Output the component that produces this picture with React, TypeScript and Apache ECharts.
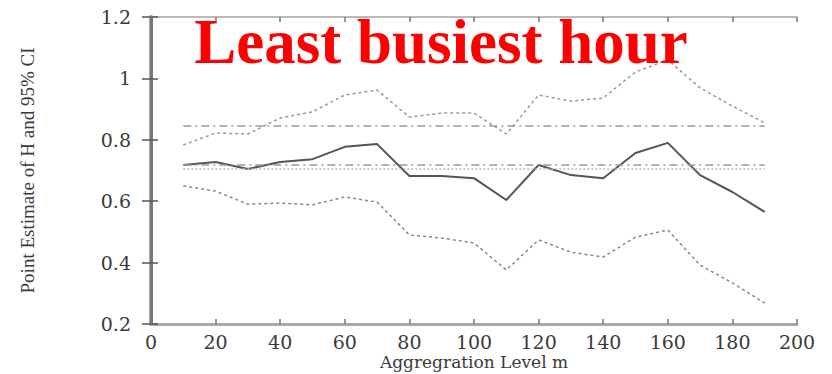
import React, { useEffect, useRef } from "react";
import * as echarts from "echarts";

// Aggregation levels m
const levels = [10, 20, 30, 40, 50, 60, 70, 80, 90, 100, 110, 120, 130, 140, 150, 160, 170, 180, 190];

// Upper 95% confidence bound
const upperCI = [0.783, 0.822, 0.819, 0.871, 0.891, 0.946, 0.962, 0.874, 0.887, 0.887, 0.819, 0.946, 0.926, 0.936, 1.021, 1.06, 0.969, 0.91, 0.855];

// Point estimate of H
const pointEstimate = [0.718, 0.728, 0.705, 0.728, 0.737, 0.777, 0.786, 0.682, 0.682, 0.675, 0.604, 0.718, 0.685, 0.675, 0.757, 0.79, 0.685, 0.63, 0.565];

// Lower 95% confidence bound
const lowerCI = [0.65, 0.633, 0.59, 0.594, 0.588, 0.614, 0.597, 0.49, 0.48, 0.464, 0.376, 0.474, 0.434, 0.418, 0.483, 0.506, 0.392, 0.334, 0.268];

// Horizontal reference levels spanning the aggregation range
const refUpper = 0.845;
const refEstimate = 0.718;
const refLower = 0.705;

const xTicks = { min: 0, max: 200, interval: 20 };
const yTicks = { min: 0.2, max: 1.2, interval: 0.2 };

const titleText = "Least busiest hour";
const xName = "Aggregration Level m";
const yName = "Point Estimate of H and 95% CI";

const pairs = (ys: number[]) => levels.map((x, i) => [x, ys[i]]);
const flat = (y: number) => [
  [levels[0], y],
  [levels[levels.length - 1], y],
];

export default function App() {
  const ref = useRef<HTMLDivElement>(null);

  useEffect(() => {
    if (!ref.current) return;
    const chart = echarts.init(ref.current, undefined, { renderer: "svg" });

    const labelFont = {
      fontFamily: "DejaVu Serif",
      fontSize: 19,
      lineHeight: 20,
      color: "#3a3a3a",
    };

    chart.setOption({
      animation: false,
      backgroundColor: "#ffffff",
      grid: {
        left: 151,
        right: 35,
        top: 17,
        bottom: 50,
        containLabel: false,
        outerBoundsMode: "none",
      },
      xAxis: [
        {
          type: "value",
          position: "bottom",
          ...xTicks,
          axisLine: { lineStyle: { color: "#a8a8a8", width: 3 } },
          axisTick: { inside: true, length: 5, lineStyle: { color: "#777", width: 1.5 } },
          axisLabel: { ...labelFont, margin: 8 },
          splitLine: { show: false },
          name: xName,
          nameLocation: "middle",
          nameGap: 29,
          nameMoveOverlap: false,
          nameTextStyle: {
            fontFamily: "DejaVu Serif",
            fontSize: 17,
            lineHeight: 18,
            color: "#3a3a3a",
          },
        },
        {
          type: "value",
          position: "top",
          ...xTicks,
          axisLine: { lineStyle: { color: "#bbb", width: 2 } },
          axisTick: { inside: true, length: 5, lineStyle: { color: "#777", width: 1.5 } },
          axisLabel: { show: false },
          splitLine: { show: false },
        },
      ],
      yAxis: [
        {
          type: "value",
          position: "left",
          ...yTicks,
          axisLine: { show: true, lineStyle: { color: "#aaa", width: 4 } },
          axisTick: { show: true, inside: true, length: 7, lineStyle: { color: "#555", width: 1.5 } },
          axisLabel: {
            ...labelFont,
            margin: 20,
            formatter: (v: number) => String(Math.round(v * 10) / 10),
          },
          splitLine: { show: false },
          name: yName,
          nameLocation: "middle",
          nameGap: 114,
          nameTextStyle: { fontFamily: "Liberation Serif", fontSize: 19, color: "#3a3a3a" },
        },
        {
          type: "value",
          position: "right",
          ...yTicks,
          axisLine: { show: true, lineStyle: { color: "#777", width: 3 } },
          axisTick: { show: true, inside: true, length: 9, lineStyle: { color: "#555", width: 1.5 } },
          axisLabel: { show: false },
          splitLine: { show: false },
        },
      ],
      series: [
        {
          name: "Upper CI",
          type: "line",
          data: pairs(upperCI),
          symbol: "none",
          lineStyle: { color: "#999", width: 1.5, type: [3, 3] },
        },
        {
          name: "H estimate",
          type: "line",
          data: pairs(pointEstimate),
          symbol: "none",
          lineStyle: { color: "#555", width: 2 },
        },
        {
          name: "Lower CI",
          type: "line",
          data: pairs(lowerCI),
          symbol: "none",
          lineStyle: { color: "#888", width: 1.5, type: [3, 3] },
        },
        {
          name: "Upper reference",
          type: "line",
          data: flat(refUpper),
          symbol: "none",
          lineStyle: { color: "#999", width: 1.5, type: [8, 4, 2, 4] },
        },
        {
          name: "Estimate reference",
          type: "line",
          data: flat(refEstimate),
          symbol: "none",
          lineStyle: { color: "#999", width: 1.5, type: [8, 4, 2, 4] },
        },
        {
          name: "Lower reference",
          type: "line",
          data: flat(refLower),
          symbol: "none",
          lineStyle: { color: "#bbb", width: 1.5, type: [2, 2] },
        },
      ],
      graphic: [
        {
          type: "text",
          x: 441,
          y: 42,
          style: {
            text: titleText,
            fill: "#ff0000",
            font: "bold 63px 'Liberation Serif', 'Times New Roman', serif",
            textAlign: "center",
            textVerticalAlign: "middle",
          },
          z: 100,
        },
      ],
    });

    return () => chart.dispose();
  }, []);

  return (
    <div
      ref={ref}
      style={{ position: "fixed", left: 0, top: 0, width: 832, height: 374 }}
    />
  );
}
